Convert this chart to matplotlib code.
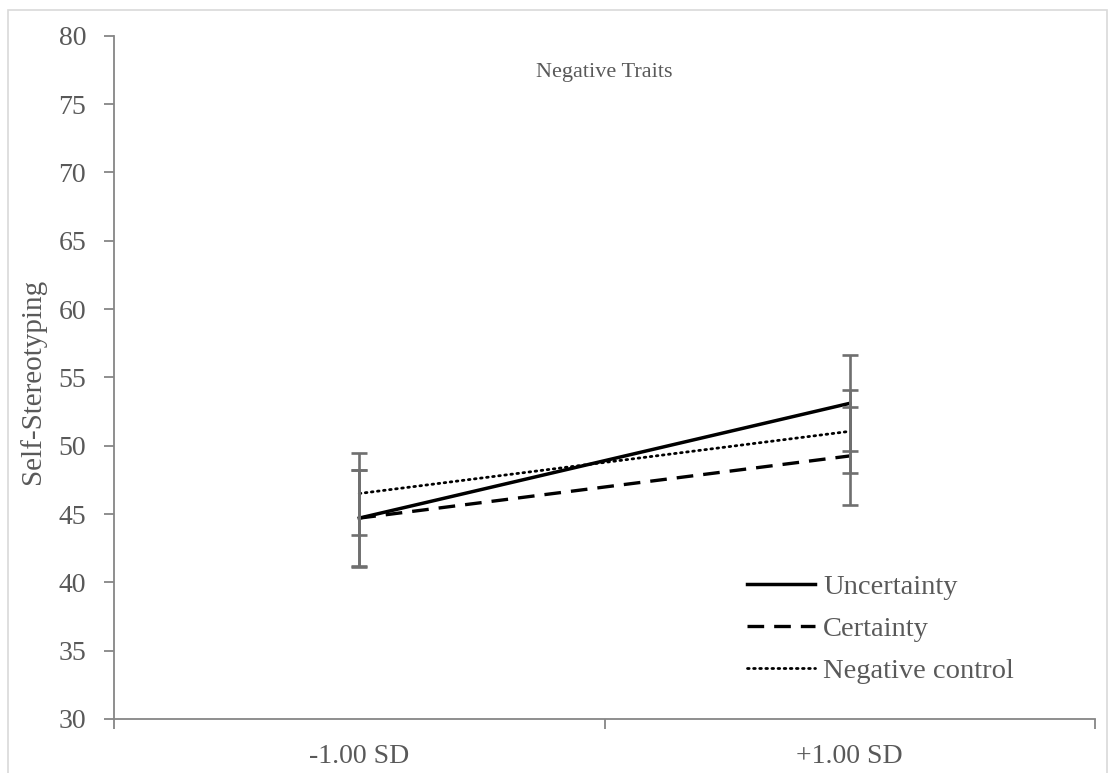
import matplotlib
matplotlib.use("Agg")
import matplotlib.pyplot as plt
from matplotlib.patches import Rectangle
from matplotlib.lines import Line2D

# Simple-slopes data: self-stereotyping at -1 SD and +1 SD
categories = ["-1.00 SD", "+1.00 SD"]
series_names = ["Uncertainty", "Certainty", "Negative control"]
uncertainty = [44.7, 53.1]
uncertainty_err = [3.55, 3.5]
certainty = [44.7, 49.25]
certainty_err = [3.5, 3.56]
neg_control = [46.5, 51.05]
neg_control_err = [3.0, 3.05]
y_ticks = [30, 35, 40, 45, 50, 55, 60, 65, 70, 75, 80]

plt.rcParams["font.family"] = ["Liberation Serif", "DejaVu Serif"]
TEXT = "#595959"
AXIS = "#868686"
ERR = "#6f6f6f"

W, H = 1110, 773
fig = plt.figure(figsize=(W / 100, H / 100), dpi=100)
ax_left, ax_right, ax_top, ax_bottom = 114, 1095, 35.7, 719
ax = fig.add_axes([ax_left / W, 1 - ax_bottom / H, (ax_right - ax_left) / W, (ax_bottom - ax_top) / H])

# chart-area border
fig.patches.append(Rectangle((8 / W, -0.05), (1107 - 8) / W, 1.05 - 10 / H,
                             transform=fig.transFigure, fill=False,
                             edgecolor="#d9d9d9", linewidth=1.2, zorder=0))

x = [0.5, 1.5]
styles = [
    (uncertainty, uncertainty_err, dict(linestyle="-", linewidth=2.5)),
    (certainty, certainty_err, dict(linestyle=(0, (5, 3)), linewidth=2.4)),
    (neg_control, neg_control_err, dict(linestyle=(0, (0.6, 1.6)), linewidth=2.0,
                                        dash_capstyle="round")),
]
handles = []
for (vals, errs, st), name in zip(styles, series_names):
    ax.plot(x, vals, color="black", zorder=3, **st)
    ax.errorbar(x, vals, yerr=errs, fmt="none", ecolor=ERR, elinewidth=1.9,
                capsize=5.5, capthick=1.9, zorder=4)
    handles.append(Line2D([0], [0], color="black", label=name, **st))

ax.set_xlim(0, 2)
ax.set_ylim(30, 80)
ax.set_yticks(y_ticks)
ax.set_yticklabels([str(t) for t in y_ticks])
ax.set_xticks([0, 1, 2])
ax.set_xticklabels([])
ax.set_xticks(x, minor=True)
ax.set_xticklabels(categories, minor=True)
ax.tick_params(axis="x", which="minor", length=0, pad=18, labelsize=20, labelcolor=TEXT)
ax.tick_params(axis="x", which="major", length=7, width=1.3, color=AXIS, direction="out")
ax.tick_params(axis="y", length=7, width=1.3, color=AXIS, direction="out",
               labelsize=20, labelcolor=TEXT, pad=13)

for side in ["top", "right"]:
    ax.spines[side].set_visible(False)
for side in ["left", "bottom"]:
    ax.spines[side].set_color(AXIS)
    ax.spines[side].set_linewidth(1.3)

fig.text(33 / W, 1 - 381 / H, "Self-Stereotyping", rotation=90, ha="center", va="center",
         fontsize=21, color=TEXT)
ax.text(1.0, 77.3, "Negative Traits", ha="center", va="center", fontsize=16, color=TEXT)

leg = ax.legend(handles=handles, loc="center left",
                bbox_to_anchor=(747 / W, 1 - 629 / H), bbox_transform=fig.transFigure,
                frameon=False, fontsize=20.5, handlelength=2.4, handletextpad=0.28,
                labelspacing=0.58, borderaxespad=0, borderpad=0)
for t in leg.get_texts():
    t.set_color(TEXT)

fig.savefig("out.png", dpi=100, facecolor="white")
